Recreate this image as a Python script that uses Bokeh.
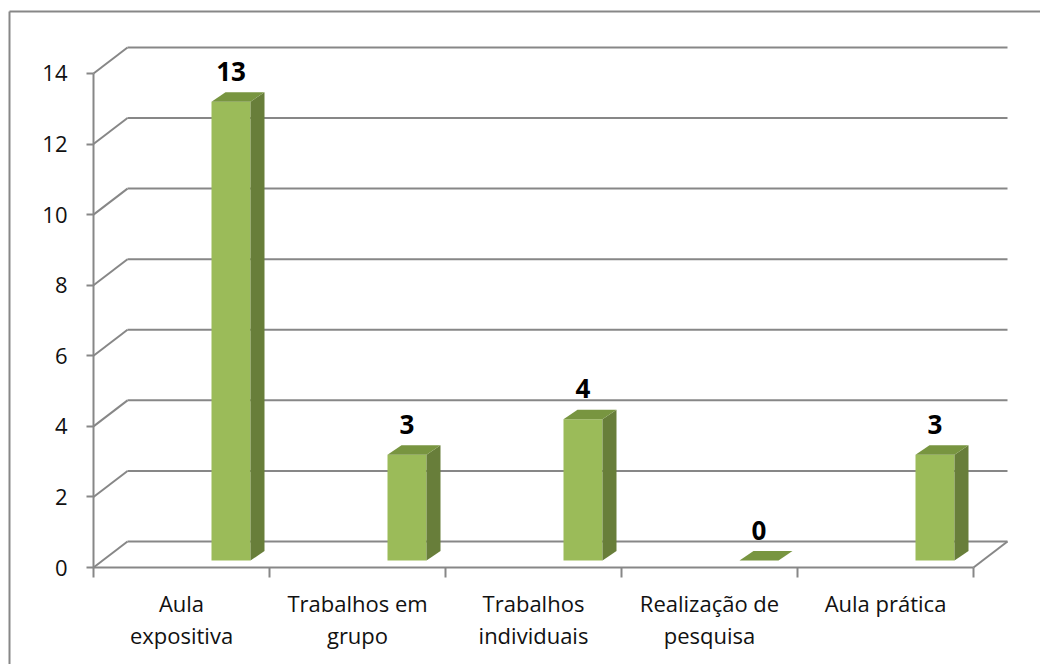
from bokeh.plotting import figure
from bokeh.models import Range1d, LinearAxis, FixedTicker
from bokeh.embed import file_html
from bokeh.resources import INLINE
from bokeh.core.properties import value

# ---- data ----
categories = ["Aula\nexpositiva", "Trabalhos em\ngrupo", "Trabalhos\nindividuais",
              "Realização de\npesquisa", "Aula prática"]
values = [13, 3, 4, 0, 3]
y_ticks = [0, 2, 4, 6, 8, 10, 12, 14]

# ---- layout / style constants ----
W, H = 1040, 664
PX_X = 176.0     # pixels per category
PX_Y = 35.29     # pixels per value unit
AX_X = 93.0      # front value axis, px from figure left
AX_Y = 567.0     # value 0 on front plane, px from figure top
x0 = -AX_X / PX_X
x1 = x0 + W / PX_X
y1 = AX_Y / PX_Y
y0 = y1 - H / PX_Y

DX, DY = 34 / PX_X, 26 / PX_Y          # depth of back wall
OFF = 49.5 / PX_X                       # bar shift from category centre
HW = 19.5 / PX_X                        # half width of bar front face
BASE = 7 / PX_Y                         # bar baseline (mid depth)
DDX, DDY = 14 / PX_X, 9.5 / PX_Y        # bar depth
GRAY = "#878787"
FRONT, SIDE, TOP = "#9BBB59", "#687E3A", "#789540"
FONT = "Open Sans"

n = len(categories)

p = figure(width=W, height=H, output_backend="svg", toolbar_location=None,
           x_range=Range1d(x0, x1), y_range=Range1d(y0, y1),
           x_axis_type=None, y_axis_type=None, min_border=0)
p.outline_line_color = None
p.background_fill_color = "white"
p.border_fill_color = "white"

# outer chart border (left and top visible)
bx = x0 + 9 / PX_X
by = y1 - 11 / PX_Y
p.segment(x0=[bx, bx], y0=[y0, by], x1=[bx, x1], y1=[by, by],
          line_color=GRAY, line_width=2)

# back wall gridlines + diagonals
gx0, gy0, gx1, gy1 = [], [], [], []
for v in y_ticks:
    gx0 += [0, DX]; gy0 += [v, v + DY]
    gx1 += [DX, n + DX]; gy1 += [v + DY, v + DY]
# floor right edge
gx0.append(n); gy0.append(0); gx1.append(n + DX); gy1.append(DY)
p.segment(x0=gx0, y0=gy0, x1=gx1, y1=gy1, line_color=GRAY, line_width=2)

# bars
fx, fy, sx, sy, tx, ty, cx, ly = [], [], [], [], [], [], [], []
for i, v in enumerate(values):
    c = i + 0.5 + OFF
    l, r = c - HW, c + HW
    b, t = BASE, v + BASE
    fx.append([l, r, r, l]); fy.append([b, b, t, t])
    sx.append([r, r + DDX, r + DDX, r]); sy.append([b, b + DDY, t + DDY, t])
    tx.append([l, r, r + DDX, l + DDX]); ty.append([t, t, t + DDY, t + DDY])
    cx.append(c); ly.append(t + DDY)

p.patches(fx, fy, fill_color=FRONT, line_color=None)
p.patches(sx, sy, fill_color=SIDE, line_color=None)
p.patches(tx, ty, fill_color=TOP, line_color=None)

p.text(x=cx, y=ly, text=[str(v) for v in values], text_align="center",
       text_baseline="alphabetic", y_offset=-21, text_font=value(FONT),
       text_font_style="bold", text_font_size="26px", text_color="#000000")

# value axis (front plane)
yax = LinearAxis(fixed_location=0, bounds=(y_ticks[0], y_ticks[-1]),
                 ticker=FixedTicker(ticks=y_ticks))
yax.axis_line_color = GRAY
yax.axis_line_width = 2
yax.major_tick_line_color = GRAY
yax.major_tick_line_width = 2
yax.major_tick_out = 7
yax.major_tick_in = 0
yax.minor_tick_line_color = None
yax.major_label_standoff = 19
yax.major_label_text_font = FONT
yax.major_label_text_font_size = "22px"
yax.major_label_text_color = "#111111"
p.add_layout(yax, "left")

# category axis (front floor edge)
centers = [i + 0.5 for i in range(n)]
bounds_ticks = [i for i in range(n + 1)]
xax = LinearAxis(fixed_location=0, bounds=(0, n),
                 ticker=FixedTicker(ticks=centers, minor_ticks=bounds_ticks))
xax.major_label_overrides = {c: lab for c, lab in zip(centers, categories)}
xax.axis_line_color = GRAY
xax.axis_line_width = 2
xax.major_tick_line_color = None
xax.major_tick_out = 0
xax.major_tick_in = 0
xax.minor_tick_line_color = GRAY
xax.minor_tick_line_width = 2
xax.minor_tick_out = 10
xax.minor_tick_in = 0
xax.major_label_standoff = 10
xax.major_label_text_font = FONT
xax.major_label_text_font_size = "22px"
xax.major_label_text_color = "#111111"
xax.major_label_text_line_height = 1.07
p.add_layout(xax, "below")

open("out.html", "w").write(file_html(p, INLINE))
